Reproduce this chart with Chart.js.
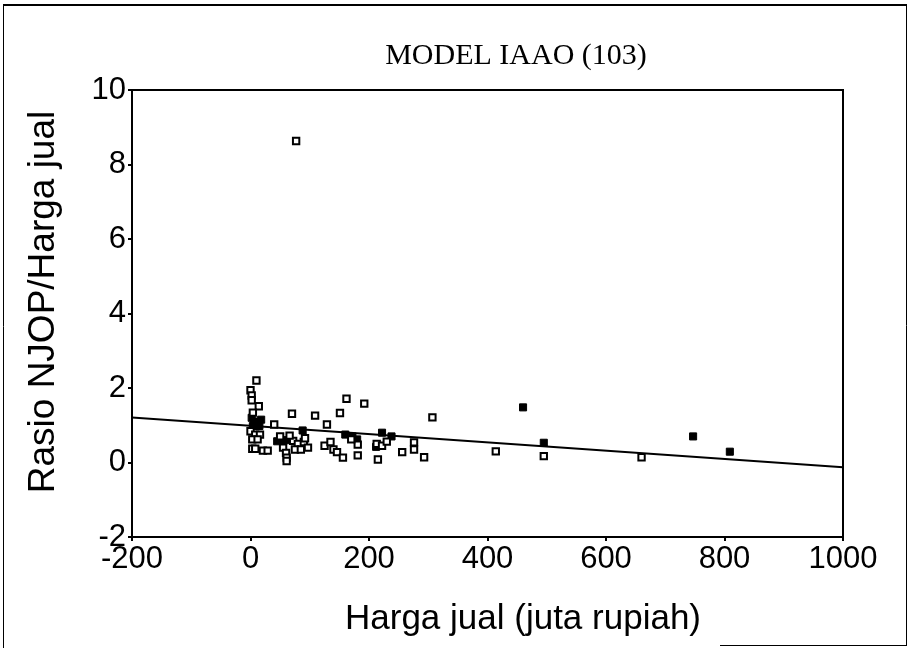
<!DOCTYPE html>
<html>
<head>
<meta charset="utf-8">
<script src="https://cdn.jsdelivr.net/npm/chart.js@4.4.1/dist/chart.umd.min.js"></script>
<style>
	html, body { margin: 0; padding: 0; background: #fff; }
	#wrap { width: 910px; height: 653px; position: relative; }
</style>
</head>
<body>
<div id="wrap"><canvas id="scatter-iaao"></canvas></div>
<script>
//
// Scatter chart - Model IAAO (103)
//

// Titles
var chartTitle = 'MODEL IAAO (103)';
var xTitle = 'Harga jual (juta rupiah)';
var yTitle = 'Rasio NJOP/Harga jual';

// Axis ticks
var xTicks = [-200, 0, 200, 400, 600, 800, 1000];
var yTicks = [-2, 0, 2, 4, 6, 8, 10];

// Open markers: harga jual (x) and rasio (y)
var hargaJual = [77, 10, 0, 2, 2, 14, 4, 70, 109, 151, 162, 192, 307, 129, 40,
	0, 8, 16, 3, 12, 3, 8, 21, 29, 50, 55, 60, 61, 61, 72, 80, 90, 75, 85, 97,
	125, 135, 140, 146, 156, 181, 181, 213, 222, 230, 215, 256, 276, 276, 293,
	414, 495, 660, 66, 92, 170];
var rasio = [8.63, 2.2, 1.94, 1.8, 1.67, 1.51, 1.34, 1.31, 1.26, 1.33, 1.71, 1.58, 1.21, 1.02, 1.02,
	0.84, 0.75, 0.75, 0.62, 0.62, 0.37, 0.37, 0.32, 0.32, 0.7, 0.4, 0.26, 0.13, 0.04, 0.58, 0.5, 0.55, 0.35, 0.35, 0.4,
	0.45, 0.55, 0.35, 0.28, 0.13, 0.48, 0.19, 0.5, 0.45, 0.56, 0.08, 0.28, 0.54, 0.35, 0.14,
	0.3, 0.17, 0.14, 0.72, 0.65, 0.62];

// Filled markers (overlapping cases)
var hargaJualPenuh = [2, 6, 12, 18, 4, 15, 45, 55, 60, 88, 160, 172, 180, 222, 238, 212, 460, 495, 747, 809];
var rasioPenuh = [1.2, 1.1, 1.05, 1.15, 0.98, 0.98, 0.57, 0.57, 0.6, 0.86, 0.75, 0.7, 0.62, 0.8, 0.7, 0.42, 1.48, 0.53, 0.7, 0.29];

// Fitted line end points
var fitX = [-200, 1000];
var fitY = [1.21, -0.13];

function toPoints(xs, ys) {
	var pts = [];
	for (var i = 0; i < xs.length; i++) pts.push({ x: xs[i], y: ys[i] });
	return pts;
}

// Frame, titles and outer border
var framePlugin = {
	id: 'frame',
	afterDraw: function(chart) {
		var ctx = chart.ctx, a = chart.chartArea;
		ctx.save();
		ctx.strokeStyle = '#000';
		ctx.lineWidth = 2;
		ctx.strokeRect(a.left, a.top, a.right - a.left, a.bottom - a.top);

		// outer page border
		ctx.lineWidth = 1;
		ctx.beginPath();
		ctx.moveTo(3.5, 5); ctx.lineTo(3.5, 648);
		ctx.moveTo(906.5, 5); ctx.lineTo(906.5, 646);
		ctx.moveTo(720, 645.5); ctx.lineTo(907, 645.5);
		ctx.stroke();
		ctx.lineWidth = 2;
		ctx.beginPath(); ctx.moveTo(3, 5); ctx.lineTo(907, 5); ctx.stroke();

		ctx.fillStyle = '#000';
		ctx.textAlign = 'center';
		ctx.textBaseline = 'middle';
		ctx.font = '30px "Liberation Serif", "Times New Roman", serif';
		ctx.fillText(chartTitle, 516, 56);

		ctx.font = '35px "Liberation Sans", Arial, sans-serif';
		ctx.fillText(xTitle, 523, 619);

		ctx.font = '37px "Liberation Sans", Arial, sans-serif';
		ctx.translate(44, 302);
		ctx.rotate(-Math.PI / 2);
		ctx.fillText(yTitle, 0, 0);
		ctx.restore();
	}
};

var $chart = document.getElementById('scatter-iaao');

var iaaoChart = new Chart($chart, {
	type: 'scatter',
	data: {
		datasets: [{
			label: 'Open',
			data: toPoints(hargaJual, rasio),
			pointStyle: 'rect',
			pointRadius: 4.5,
			pointBorderWidth: 2,
			borderColor: '#000',
			backgroundColor: '#fff'
		}, {
			label: 'Filled',
			data: toPoints(hargaJualPenuh, rasioPenuh),
			pointStyle: 'rect',
			pointRadius: 5,
			pointBorderWidth: 1,
			borderColor: '#000',
			backgroundColor: '#000'
		}, {
			type: 'line',
			label: 'Fit',
			data: toPoints(fitX, fitY),
			borderColor: '#000',
			borderWidth: 2,
			pointRadius: 0,
			fill: false
		}]
	},
	options: {
		responsive: true,
		maintainAspectRatio: false,
		animation: false,
		layout: { padding: { left: 0, top: 90, right: 67, bottom: 0 } },
		plugins: {
			legend: { display: false },
			tooltip: { enabled: false }
		},
		scales: {
			x: {
				type: 'linear',
				min: -200,
				max: 1000,
				afterFit: function(scale) { scale.height = 116; },
				afterBuildTicks: function(scale) {
					scale.ticks = xTicks.map(function(v) { return { value: v }; });
				},
				border: { display: true, color: '#000', width: 2 },
				grid: { drawOnChartArea: false, drawTicks: true, tickLength: 4, color: '#000', lineWidth: 2 },
				ticks: {
					color: '#000',
					padding: 0,
					maxRotation: 0,
					callback: function(v) { return String(v); },
					font: { family: '"Liberation Sans", Arial, sans-serif', size: 31 }
				}
			},
			y: {
				type: 'linear',
				min: -2,
				max: 10,
				afterFit: function(scale) { scale.width = 132; },
				afterBuildTicks: function(scale) {
					scale.ticks = yTicks.map(function(v) { return { value: v }; });
				},
				border: { display: true, color: '#000', width: 2 },
				grid: { drawOnChartArea: false, drawTicks: true, tickLength: 4, color: '#000', lineWidth: 2 },
				ticks: {
					color: '#000',
					padding: 2,
					callback: function(v) { return String(v); },
					font: { family: '"Liberation Sans", Arial, sans-serif', size: 31 }
				}
			}
		}
	},
	plugins: [framePlugin]
});
</script>
</body>
</html>
